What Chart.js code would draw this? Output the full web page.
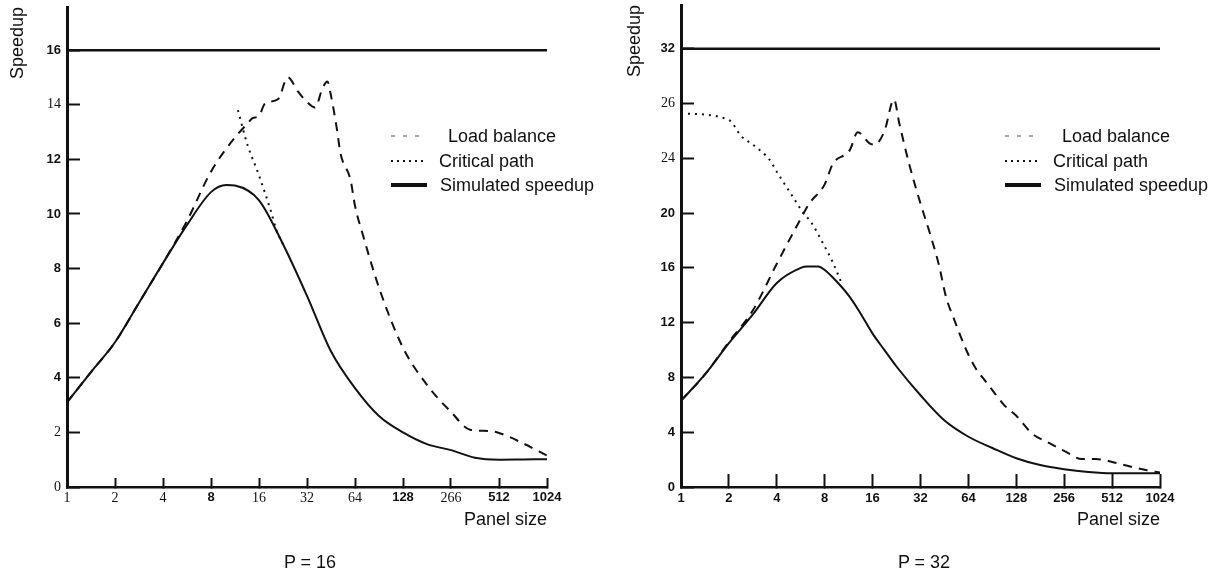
<!DOCTYPE html>
<html>
<head>
<meta charset="utf-8">
<script src="https://cdn.jsdelivr.net/npm/chart.js@4.4.1/dist/chart.umd.min.js"></script>
<style>
  body { margin: 0; background: #fff; }
  #wrap { position: relative; width: 1229px; height: 573px; overflow: hidden; }
  canvas { position: absolute; top: 0; }
  .cap { position: absolute; top: 552px; width: 120px; text-align: center;
         font: 18px "Liberation Sans", Arial, sans-serif; color: #111; }
</style>
</head>
<body>
<div id="wrap">
  <canvas id="left" width="614" height="573" style="left:0"></canvas>
  <canvas id="right" width="615" height="573" style="left:614px"></canvas>
  <div class="cap" style="left:250px">P = 16</div>
  <div class="cap" style="left:864px">P = 32</div>
</div>
<script>
// ---- P = 16 ----
const simSizes16 = [1, 1.41, 2, 2.83, 4, 5.66, 8, 10, 11.3, 16, 22.6, 32, 45.3, 64, 90.5, 128, 181, 256, 362, 512, 724, 1024];
const sim16 = [3.1, 4.2, 5.3, 6.75, 8.2, 9.6, 10.8, 11.06, 11.04, 10.5, 8.9, 7.0, 4.96, 3.62, 2.6, 2.0, 1.57, 1.35, 1.07, 1.0, 1.01, 1.02];
const loadSizes16 = [1, 1.41, 2, 2.83, 4, 5.66, 8, 11.3, 13.5, 14.5, 16, 17.5, 21, 24.3, 28, 32, 36, 40, 43, 45, 49, 52, 60, 64, 72, 90.5, 128, 181, 256, 337, 445, 512, 724, 1024];
const load16 = [3.1, 4.2, 5.3, 6.75, 8.2, 9.75, 11.55, 12.8, 13.3, 13.5, 13.6, 14.05, 14.2, 15.0, 14.5, 14.1, 13.9, 14.6, 14.85, 14.4, 13.2, 12.2, 11.25, 10.3, 9.2, 7.3, 5.1, 3.74, 2.75, 2.1, 2.05, 1.98, 1.6, 1.15];
const critSizes16 = [11.8, 13.6, 15.8, 19, 20.6, 22.6];
const crit16 = [13.8, 12.5, 11.5, 10.1, 9.4, 8.9];
const ideal16 = [16, 16];

// ---- P = 32 ----
const simSizes32 = [1, 1.41, 2, 2.83, 4, 5.66, 6.2, 7.3, 8, 9, 11.3, 13, 16, 19, 22.6, 32, 45.3, 64, 90.5, 128, 181, 256, 362, 512, 724, 1024];
const sim32 = [6.3, 8.2, 10.5, 12.6, 14.9, 16.0, 16.1, 16.1, 15.85, 15.3, 14.0, 12.95, 11.2, 10.0, 8.8, 6.7, 4.85, 3.67, 2.85, 2.1, 1.6, 1.3, 1.1, 1.0, 1.0, 1.0];
const loadSizes32 = [1, 1.41, 2, 2.83, 4, 5.66, 6.4, 8, 9, 11.5, 12.9, 15.3, 16.5, 19, 21.8, 23.5, 27, 32, 36.5, 42, 46, 53, 61, 70, 81, 93, 107, 128, 161, 207, 263, 331, 403, 512, 683, 835, 1024];
const load32 = [6.3, 8.2, 10.6, 12.9, 16.3, 19.6, 20.7, 22.1, 23.6, 24.6, 25.9, 25.1, 25.0, 26.0, 28.3, 26.6, 23.7, 20.7, 18.6, 16.1, 14.0, 12.0, 10.2, 8.8, 7.8, 6.9, 6.0, 5.2, 3.9, 3.2, 2.56, 2.04, 2.04, 1.83, 1.46, 1.24, 1.05];
const critSizes32 = [1, 2, 2.4, 2.83, 3.6, 4.06, 5.04, 5.8, 6.6, 7.8, 9, 10.2];
const crit32 = [27.3, 26.8, 25.6, 25.0, 23.9, 22.9, 21.2, 20.1, 19.3, 17.8, 16.4, 14.9];
const ideal32 = [32, 32];

// ---- axes ----
const idealSizes = [1, 1024];
const xTicks = [1, 2, 4, 8, 16, 32, 64, 128, 256, 512, 1024];
const xLabels16 = ['1', '2', '4', '8', '16', '32', '64', '128', '266', '512', '1024'];
const xLabels32 = ['1', '2', '4', '8', '16', '32', '64', '128', '256', '512', '1024'];
const yTicks16 = [0, 2, 4, 6, 8, 10, 12, 14, 16];
const yLabels16 = ['0', '2', '4', '6', '8', '10', '12', '14', '16'];
const yTicks32 = [0, 4, 8, 12, 16, 20, 24, 28, 32];
const yLabels32 = ['0', '4', '8', '12', '16', '20', '24', '26', '32'];

// labels that were printed in a plain serif face in the scan
const serifX16 = [1, 2, 4, 16, 32, 64, 256];
const serifY16 = [0, 2, 14];
const serifY32 = [24, 28];

const INK = '#111';
const pts = (xs, ys) => xs.map((x, i) => ({x: x, y: ys[i]}));

const insetLegend = {
  id: 'insetLegend',
  afterDraw(chart) {
    const ctx = chart.ctx;
    const rows = [136, 161, 185];
    const textX = [448, 439, 440];
    const items = chart.data.datasets.filter(d => d.legendDash);
    ctx.save();
    ctx.font = '18px "Liberation Sans", Arial, sans-serif';
    ctx.textBaseline = 'middle';
    items.forEach((d, i) => {
      const y = rows[i];
      ctx.beginPath();
      ctx.setLineDash(d.legendDash);
      ctx.lineWidth = d.legendWidth;
      ctx.strokeStyle = d.legendColor;
      ctx.moveTo(391, y);
      ctx.lineTo(427, y);
      ctx.stroke();
      ctx.setLineDash([]);
      ctx.fillStyle = INK;
      ctx.fillText(d.label, textX[i], y + 1);
    });
    ctx.restore();
  }
};

function makeChart(id, o) {
  const zeroPad = s => { s.paddingTop = 0; s.paddingBottom = 0; s.paddingLeft = 0; s.paddingRight = 0; };
  return new Chart(document.getElementById(id), {
    type: 'line',
    data: {
      datasets: [
        { label: 'ideal', data: pts(idealSizes, o.ideal), borderColor: INK, borderWidth: 2.5 },
        { label: 'Load balance', data: pts(o.loadX, o.load), borderColor: INK, borderWidth: 2,
          borderDash: [9, 7], legendDash: [4, 8], legendWidth: 1.2, legendColor: '#555' },
        { label: 'Critical path', data: pts(o.critX, o.crit), borderColor: INK, borderWidth: 2,
          borderDash: [2, 5], legendDash: [2, 4], legendWidth: 2, legendColor: INK },
        { label: 'Simulated speedup', data: pts(o.simX, o.sim), borderColor: INK, borderWidth: 2,
          legendDash: [], legendWidth: 4, legendColor: INK }
      ]
    },
    options: {
      responsive: false,
      animation: false,
      layout: { padding: { left: 0, right: o.padRight, top: o.top, bottom: 0 } },
      elements: { point: { radius: 0 }, line: { cubicInterpolationMode: 'monotone' } },
      plugins: { legend: { display: false }, tooltip: { enabled: false } },
      scales: {
        x: {
          type: 'logarithmic', min: 1, max: 1024,
          afterBuildTicks: s => { s.ticks = xTicks.map(v => ({value: v})); },
          afterFit: s => { s.height = 86; zeroPad(s); },
          border: { color: INK, width: 2.5 },
          grid: { display: true, drawOnChartArea: false, tickLength: o.xTickLen, tickWidth: 2, tickColor: INK },
          ticks: {
            autoSkip: false, maxRotation: 0, color: INK, padding: o.xTickPad,
            callback: (v, i) => o.xLabels[i],
            font: c => (c.tick && o.serifX.includes(c.tick.value))
              ? {family: '"Liberation Serif", serif', size: 14}
              : {family: '"Liberation Sans", Arial, sans-serif', size: 13, weight: 'bold'}
          },
          title: { display: true, text: 'Panel size', align: 'end', color: INK,
                   font: {family: '"Liberation Sans", Arial, sans-serif', size: 18},
                   padding: {top: 0, bottom: 42} }
        },
        y: {
          min: 0, max: o.yMax,
          afterBuildTicks: s => { s.ticks = o.yTicks.map(v => ({value: v})); },
          afterFit: s => { s.width = 67; zeroPad(s); },
          border: { color: INK, width: 3 },
          grid: { display: true, drawOnChartArea: false, tickLength: -13, tickWidth: 2, tickColor: INK },
          ticks: {
            color: INK, padding: 19,
            callback: (v, i) => o.yLabels[i],
            font: c => (c.tick && o.serifY.includes(c.tick.value))
              ? {family: '"Liberation Serif", serif', size: 14}
              : {family: '"Liberation Sans", Arial, sans-serif', size: 13, weight: 'bold'}
          },
          title: { display: true, text: 'Speedup', align: 'end', color: INK,
                   font: {family: '"Liberation Sans", Arial, sans-serif', size: 18},
                   padding: {top: o.titlePad, bottom: 0} }
        }
      }
    },
    plugins: [insetLegend]
  });
}

makeChart('left', {
  simX: simSizes16, sim: sim16, loadX: loadSizes16, load: load16, critX: critSizes16, crit: crit16, ideal: ideal16,
  xLabels: xLabels16, yTicks: yTicks16, yLabels: yLabels16, serifX: serifX16, serifY: serifY16,
  yMax: 17.58, top: 7, padRight: 67, xTickLen: -9, xTickPad: 12, titlePad: 7
});

makeChart('right', {
  simX: simSizes32, sim: sim32, loadX: loadSizes32, load: load32, critX: critSizes32, crit: crit32, ideal: ideal32,
  xLabels: xLabels32, yTicks: yTicks32, yLabels: yLabels32, serifX: [], serifY: serifY32,
  yMax: 35.2, top: 5, padRight: 69, xTickLen: -13, xTickPad: 17, titlePad: 10
});
</script>
</body>
</html>
